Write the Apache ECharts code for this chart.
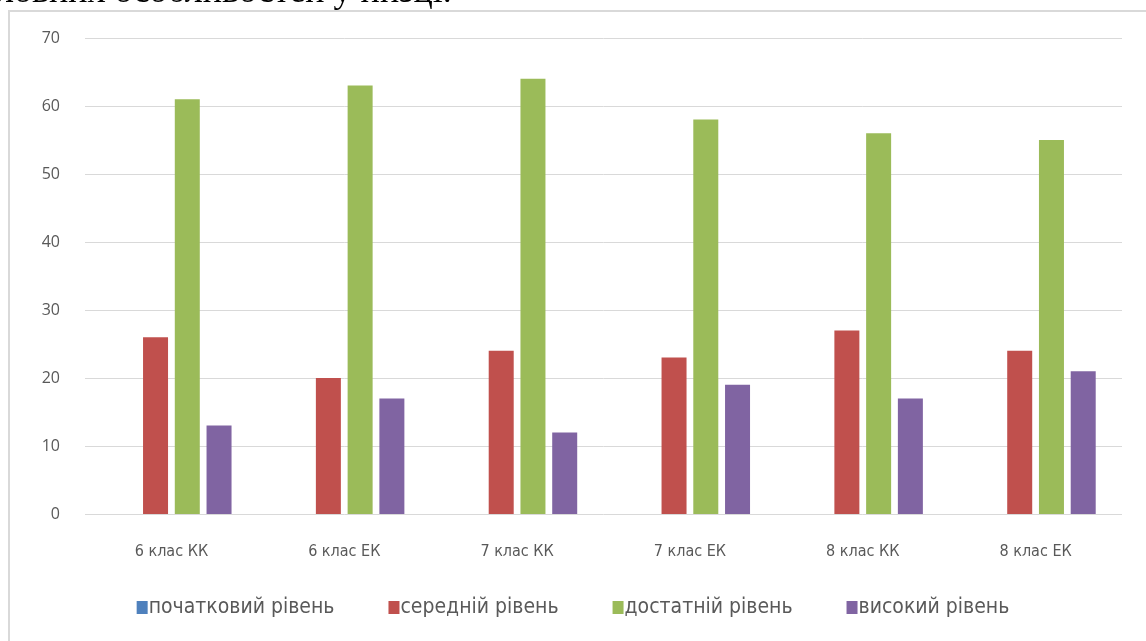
<!DOCTYPE html>
<html><head><meta charset="utf-8">
<script src="https://cdn.jsdelivr.net/npm/echarts@6/dist/echarts.min.js"></script>
<style>html,body{margin:0;padding:0;background:#fff}#c{width:1146px;height:641px}</style>
</head><body><div id="c"></div>
<script>
const categories = ['6 клас КК','6 клас ЕК','7 клас КК','7 клас ЕК','8 клас КК','8 клас ЕК'];
const seriesNames = ['початковий рівень','середній рівень','достатній рівень','високий рівень'];
const initialLevel = [0,0,0,0,0,0];
const middleLevel = [26,20,24,23,27,24];
const sufficientLevel = [61,63,64,58,56,55];
const highLevel = [13,17,12,19,17,21];
const colors = ['#4f81bd','#c0504d','#9bbb59','#8064a2'];
const dataSets = [initialLevel, middleLevel, sufficientLevel, highLevel];

const chart = echarts.init(document.getElementById('c'));
const font = '"DejaVu Sans Condensed",sans-serif';
chart.setOption({
  animation:false,
  backgroundColor:'#fff',
  graphic:[
    {type:'rect', shape:{x:9,y:11,width:1150,height:700}, style:{fill:'none',stroke:'#d9d9d9',lineWidth:2}, z:-1},
    {type:'text', left:-4, top:-25, style:{text:'ловних особливостей у низці.', font:'36px "Liberation Serif", serif', fill:'#000'}}
  ],
  grid:{left:85,right:24,top:38,bottom:127,containLabel:false},
  legend:{bottom:18,left:'center',itemWidth:11,itemHeight:13,itemGap:54,icon:'rect',
    textStyle:{fontFamily:font,fontSize:21,color:'#595959',padding:[0,0,0,-4]},
    data:seriesNames},
  xAxis:{type:'category',data:categories,
    axisLine:{show:false},axisTick:{show:false},
    axisLabel:{margin:30,fontFamily:font,fontSize:16,color:'#595959'}},
  yAxis:{type:'value',min:0,max:70,interval:10,
    axisLabel:{margin:25,fontFamily:'"Open Sans",sans-serif',fontSize:16,color:'#595959'},
    splitLine:{lineStyle:{color:'#d9d9d9',width:1}},
    axisLine:{show:false},axisTick:{show:false}},
  series: dataSets.map((d,i)=>({
    name:seriesNames[i], type:'bar', data:d, barWidth:25, barGap:'27%',
    itemStyle:{color:colors[i]}
  }))
});
</script></body></html>
